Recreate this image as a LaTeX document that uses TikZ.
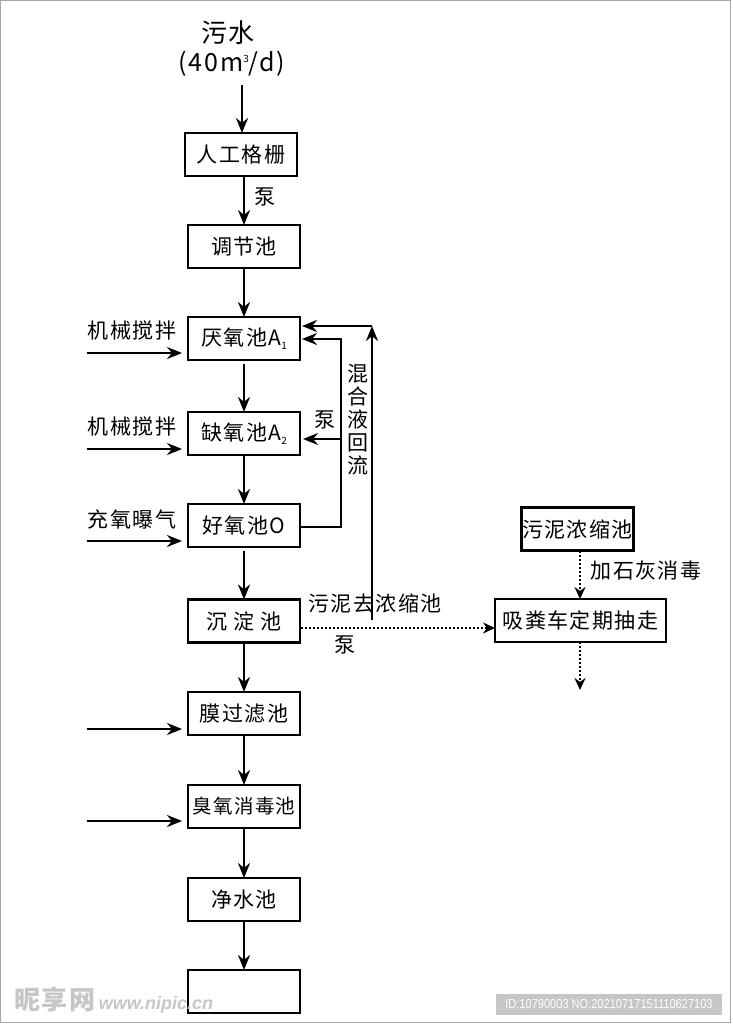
\documentclass[tikz,border=0pt]{standalone}
\usepackage{fontspec}
\setmainfont[LetterSpace=7]{Noto Sans CJK SC}
\newfontfamily\idfont{Liberation Sans}
\usepackage{tikz}
\usetikzlibrary{positioning, arrows.meta}
\tikzset{
    tank/.style={rectangle, draw=black, fill=white, line width=2.6pt, minimum width=112pt, minimum height=43pt, inner sep=0pt, outer sep=0pt, font=\fontsize{21}{25}\selectfont},
    tag/.style={inner sep=0pt, font=\fontsize{21}{25}\selectfont},
    flow/.style={-{Stealth[length=15pt,width=12pt]}, line width=2.4pt},
    sludge/.style={-{Stealth[length=12pt,width=11pt]}, line width=2.4pt, dash pattern=on 2pt off 2pt},
    wmark/.style={inner sep=0pt, text=gray!45},
}
\newcommand{\lowidx}[1]{\raisebox{-4pt}{\fontsize{10}{10}\selectfont #1}}
\begin{document}
\begin{tikzpicture}[x=1pt, y=-1pt]
    \useasboundingbox (0,0) rectangle (732,1024);
    \draw[gray!70, line width=1pt] (0.5,0.5) rectangle (730.5,1022.5);
    \node [tag, font=\fontsize{26}{28}\selectfont] (sewage) at (228,33) {污水};
    \node [tag, font=\fontsize{25}{28}\selectfont] (rate) at (232,64) {(40m\raisebox{9pt}{\fontsize{10}{10}\selectfont 3}/d)};
    \coordinate (inlet) at (242,85);
    \node [tank] (screen) at (241,154.5) {人工格栅};
    \node [tank] (adjust) at (244,246.5) {调节池};
    \node [tank] (anaer) [below=49pt of adjust] {厌氧池A\lowidx{1}};
    \node [tank] (anox) [below=52pt of anaer] {缺氧池A\lowidx{2}};
    \node [tank] (aer) [below=49pt of anox] {好氧池O};
    \node [tank] (settle) [below=52.5pt of aer] {沉\ 淀\ 池};
    \node [tank] (membrane) [below=49.5pt of settle] {膜过滤池};
    \node [tank, font=\fontsize{19.5}{25}\selectfont] (ozone) [below=50pt of membrane] {臭氧消毒池};
    \node [tank] (clean) [below=50pt of ozone] {净水池};
    \node [tank] (outlet) [below=49pt of clean] {};
    \node [tank] (thicken) at (577.5,529) {污泥浓缩池};
    \node [tank, minimum width=171pt] (truck) at (580.5,620.5) {吸粪车定期抽走};
    \coordinate (feedanaer) at (87,353);
    \coordinate (feedanox) at (87,449);
    \coordinate (feedaer) at (87,541);
    \coordinate (feedmembrane) at (87,729);
    \coordinate (feedozone) at (87,821);
    \coordinate (mixcorner) at (341,527);
    \coordinate (mixtop) at (341,339);
    \coordinate (mixbranch) at (341,439);
    \coordinate (backstart) at (372,620);
    \coordinate (backtop) at (372,326);
    \coordinate (sludgeout) at (301,628);
    \coordinate (truckout) at (580,690);
    \node [tag] (stirone) at (132,331) {机械搅拌};
    \node [tag] (stirtwo) at (132,427) {机械搅拌};
    \node [tag] (blow) at (132,519) {充氧曝气};
    \node [tag] (pumpone) at (265,197) {泵};
    \node [tag] (pumptwo) at (325,420) {泵};
    \node [tag] (pumpthree) at (345,645) {泵};
    \node [tag, align=center, font=\fontsize{21}{23}\selectfont] (mixlabel) at (358,420) {混\\合\\液\\回\\流};
    \node [tag] (tothicken) at (375,603) {污泥去浓缩池};
    \node [tag] (lime) at (646,571) {加石灰消毒};
    \draw[flow] (inlet) -- (inlet |- screen.north);
    \draw[flow] (adjust |- screen.south) -- (adjust);
    \draw[flow] (adjust) -- (anaer);
    \draw[flow, shorten <=4pt] (anaer) -- (anox);
    \draw[flow] (anox) -- (aer);
    \draw[flow, shorten <=4pt] (aer) -- (settle);
    \draw[flow] (settle) -- (membrane);
    \draw[flow] (membrane) -- (ozone);
    \draw[flow] (ozone) -- (clean);
    \draw[flow] (clean) -- (outlet);
    \draw[flow, shorten >=6pt] (feedanaer) -- (anaer.west |- feedanaer);
    \draw[flow, shorten >=6pt] (feedanox) -- (anox.west |- feedanox);
    \draw[flow, shorten >=6pt] (feedaer) -- (aer.west |- feedaer);
    \draw[flow, shorten >=6pt] (feedmembrane) -- (membrane.west |- feedmembrane);
    \draw[flow, shorten >=6pt] (feedozone) -- (ozone.west |- feedozone);
    \draw[flow, shorten >=2pt] (aer.east |- mixcorner) -- (mixcorner) -- (mixtop) -- (anaer.east |- mixtop);
    \draw[flow, shorten >=3pt] (mixbranch) -- (anox.east |- mixbranch);
    \draw[flow] (backstart) -- (backtop);
    \draw[flow, shorten >=2pt] (backtop) -- (anaer.east |- backtop);
    \draw[sludge] (sludgeout) -- (truck.west |- sludgeout);
    \draw[sludge] (thicken.south -| truckout) -- (truck.north -| truckout);
    \draw[sludge] (truck.south -| truckout) -- (truckout);
    \node [wmark, font=\fontsize{26}{26}\selectfont\bfseries\itshape] (logo) at (55,1000) {昵享网};
    \node [wmark, font=\idfont\fontsize{18}{18}\selectfont\bfseries\itshape] (site) at (156,1005) {www.nipic.cn};
    \node [fill=gray!45, minimum width=226pt, minimum height=21pt, inner sep=0pt] (stampbox) at (609,1004.5) {};
    \node [inner sep=0pt, text=white, font=\idfont\fontsize{13}{13}\selectfont, xscale=.85, transform shape] (stamp) at (stampbox) {ID:10790003 NO:20210717151110627103};
\end{tikzpicture}
\end{document}
